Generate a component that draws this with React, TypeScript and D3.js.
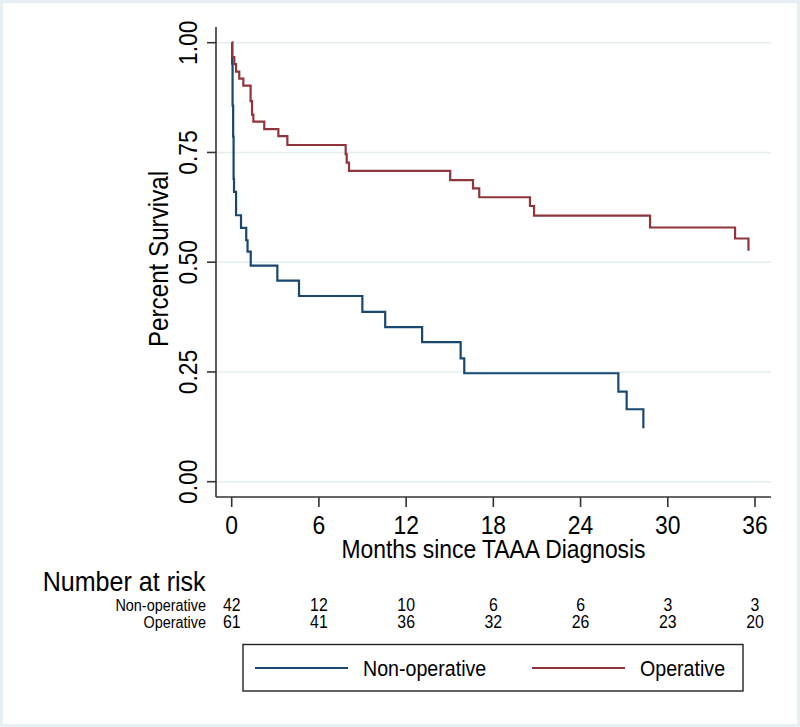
import React from "react";
import * as d3 from "d3";

// ---- Data ----
const nonOperative: [number, number][] = [
  [0, 1.0], [0.03, 0.952], [0.06, 0.857], [0.1, 0.786], [0.13, 0.69], [0.16, 0.66],
  [0.3, 0.607], [0.64, 0.578], [1.0, 0.55], [1.09, 0.524], [1.31, 0.492],
  [3.14, 0.458], [4.63, 0.423], [8.99, 0.387], [10.56, 0.352], [13.1, 0.318],
  [15.75, 0.281], [16.0, 0.247], [26.6, 0.205], [27.17, 0.165], [28.32, 0.122],
];
const operative: [number, number][] = [
  [0, 1.0], [0.04, 0.967], [0.18, 0.951], [0.3, 0.934], [0.52, 0.918], [0.8, 0.902],
  [1.3, 0.867], [1.4, 0.836], [1.49, 0.82], [2.24, 0.803], [3.21, 0.787], [3.83, 0.767],
  [7.84, 0.746], [7.91, 0.727], [8.07, 0.708], [15.03, 0.687], [16.6, 0.668],
  [17.03, 0.648], [20.52, 0.628], [20.8, 0.606], [28.78, 0.579], [34.63, 0.554],
  [35.55, 0.526],
];
const xTicks = [0, 6, 12, 18, 24, 30, 36];
const yTicks = [0, 0.25, 0.5, 0.75, 1.0];
const riskTimes = [0, 6, 12, 18, 24, 30, 36];
const riskNonOperative = [42, 12, 10, 6, 6, 3, 3];
const riskOperative = [61, 41, 36, 32, 26, 23, 20];
const groupLabels = ["Non-operative", "Operative"];

const BLUE = "#1a476f";
const RED = "#90353b";
const GRID = "#e4eef0";
const AXIS = "#333333";
const FONT = "'Liberation Sans', Arial, Helvetica, sans-serif";
const SX = 0.88;

type TProps = {
  x: number; y: number; size: number; anchor?: "start" | "middle" | "end";
  rotate?: number; children: React.ReactNode;
};
const T = ({ x, y, size, anchor = "start", rotate = 0, children }: TProps) => (
  <text
    transform={`translate(${x},${y}) rotate(${rotate}) scale(${SX},1)`}
    fontSize={size}
    fontFamily={FONT}
    textAnchor={anchor}
    fill="#000"
  >
    {children}
  </text>
);

export default function App() {
  const W = 800, H = 727;
  const x = d3.scaleLinear().domain([0, 36]).range([231.7, 755]);
  const y = d3.scaleLinear().domain([0, 1]).range([481.7, 42.7]);
  const axisLeft = 216, axisBottom = 497, plotRight = 771, plotTop = 27;

  const line = d3.line<[number, number]>()
    .x((d) => x(d[0]))
    .y((d) => y(d[1]))
    .curve(d3.curveStepAfter);

  return (
    <svg
      width={W}
      height={H}
      style={{ position: "absolute", left: 0, top: 0, display: "block" }}
    >
      <rect x={0} y={0} width={W} height={H} fill="#ffffff" />
      <rect x={1.5} y={1.5} width={W - 3} height={H - 3} fill="none" stroke="#e6eff2" strokeWidth={3} />

      {/* gridlines */}
      {yTicks.map((t) => (
        <line key={"g" + t} x1={axisLeft + 1} x2={plotRight} y1={y(t)} y2={y(t)} stroke={GRID} strokeWidth={1.6} />
      ))}

      {/* curves */}
      <path d={line(nonOperative) || ""} fill="none" stroke={BLUE} strokeWidth={2.2} />
      <path d={line(operative) || ""} fill="none" stroke={RED} strokeWidth={2.2} />

      {/* axes */}
      <line x1={axisLeft} x2={axisLeft} y1={plotTop} y2={axisBottom} stroke={AXIS} strokeWidth={1.6} />
      <line x1={axisLeft} x2={plotRight} y1={axisBottom} y2={axisBottom} stroke={AXIS} strokeWidth={1.6} />
      {yTicks.map((t) => (
        <g key={"yt" + t}>
          <line x1={axisLeft - 9} x2={axisLeft} y1={y(t)} y2={y(t)} stroke={AXIS} strokeWidth={1.6} />
          <T x={197} y={y(t)} size={26} anchor="middle" rotate={-90}>{t.toFixed(2)}</T>
        </g>
      ))}
      {xTicks.map((t) => (
        <g key={"xt" + t}>
          <line x1={x(t)} x2={x(t)} y1={axisBottom} y2={axisBottom + 10} stroke={AXIS} strokeWidth={1.6} />
          <T x={x(t)} y={534} size={26} anchor="middle">{t}</T>
        </g>
      ))}
      <T x={(axisLeft + plotRight) / 2} y={558} size={26} anchor="middle">Months since TAAA Diagnosis</T>
      <T x={168} y={259} size={27.5} anchor="middle" rotate={-90}>Percent Survival</T>

      {/* number at risk */}
      <T x={42.7} y={591} size={28.5} anchor="start">Number at risk</T>
      <T x={206} y={611} size={16.4} anchor="end">{groupLabels[0]}</T>
      <T x={206} y={628} size={16.4} anchor="end">{groupLabels[1]}</T>
      {riskTimes.map((t, i) => (
        <g key={"r" + t}>
          <T x={x(t)} y={611} size={18} anchor="middle">{riskNonOperative[i]}</T>
          <T x={x(t)} y={628} size={18} anchor="middle">{riskOperative[i]}</T>
        </g>
      ))}

      {/* legend */}
      <rect x={243} y={644.5} width={500} height={46.5} fill="#fff" stroke="#222" strokeWidth={1.4} />
      <line x1={255} x2={348} y1={668} y2={668} stroke={BLUE} strokeWidth={2.2} />
      <T x={363} y={676} size={22.3} anchor="start">{groupLabels[0]}</T>
      <line x1={532} x2={625} y1={668} y2={668} stroke={RED} strokeWidth={2.2} />
      <T x={640} y={676} size={22.3} anchor="start">{groupLabels[1]}</T>
    </svg>
  );
}
